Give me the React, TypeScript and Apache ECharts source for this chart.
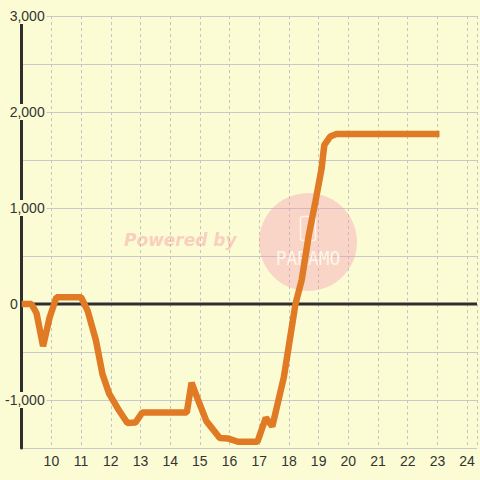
import React, { useEffect, useRef } from "react";
import * as echarts from "echarts";

const hours = [
  9.0, 9.33, 9.5, 9.72, 9.94, 10.17, 11.0, 11.22, 11.5, 11.72, 11.94, 12.28, 12.56, 12.83, 13.06,
  14.56, 14.72, 14.94, 15.22, 15.67, 15.94, 16.28, 16.94, 17.22, 17.44, 17.83, 18.22, 18.43,
  18.67, 18.89, 19.1, 19.19, 19.39, 19.6, 23.07,
];
const values = [
  0, 0, -97, -440, -140, 70, 70, -70, -380, -730, -930, -1110, -1240, -1235, -1130,
  -1130, -820, -1000, -1220, -1395, -1400, -1435, -1435, -1185, -1275, -760, 0, 250,
  720, 1065, 1410, 1655, 1745, 1770, 1770,
];
const yTicks = { min: -1500, max: 3000, step: 500 };
const xTicks = { min: 9, max: 24 + 1 / 3, step: 1 };
const baselineValue = 0;

const BG = "#fcfcd4";
const LABEL_FONT = "'Liberation Sans', Arial, sans-serif";

export default function App() {
  const ref = useRef<HTMLDivElement>(null);
  useEffect(() => {
    if (!ref.current) return;
    const chart = echarts.init(ref.current, null, { renderer: "svg" });
    const data = hours.map((h, i) => [h, values[i]]);
    const baseline = [
      [xTicks.min, baselineValue],
      [xTicks.max, baselineValue],
    ];
    chart.setOption({
      animation: false,
      backgroundColor: BG,
      grid: { left: 20, right: 0, top: 16, bottom: 32 },
      xAxis: {
        type: "value",
        min: xTicks.min,
        max: xTicks.max,
        interval: xTicks.step,
        position: "bottom",
        axisLine: { show: false, onZero: false },
        axisTick: { show: false },
        axisLabel: {
          fontSize: 14,
          color: "#333",
          fontFamily: LABEL_FONT,
          margin: 6,
          formatter: (v: number) =>
            Number.isInteger(v) && v !== xTicks.min ? String(v) : "",
        },
        splitLine: {
          show: true,
          lineStyle: { color: "#c4c4c4", type: [3, 3], width: 1 },
        },
      },
      yAxis: {
        type: "value",
        min: yTicks.min,
        max: yTicks.max,
        interval: yTicks.step,
        axisLine: { show: true, onZero: false, lineStyle: { color: "#2e2e2e", width: 3 } },
        axisTick: { show: false },
        splitLine: { show: true, lineStyle: { color: "#c8c8c8", width: 1 } },
        axisLabel: {
          align: "right",
          margin: -25,
          formatter: (v: number) => {
            if (v % 1000 !== 0) return "";
            if (v === 0) return "{z|0}";
            return "{a|" + v.toLocaleString("en-US") + "}";
          },
          rich: {
            a: {
              fontSize: 14,
              color: "#333",
              fontFamily: LABEL_FONT,
              backgroundColor: BG,
              padding: [1, 2, 1, 2],
            },
            z: {
              fontSize: 14,
              color: "#333",
              fontFamily: LABEL_FONT,
              padding: [1, 29, 1, 0],
            },
          },
        },
      },
      graphic: [
        {
          type: "text",
          left: 124,
          top: 231,
          z: 1,
          style: {
            text: "Powered by",
            font: "italic bold 17px 'DejaVu Sans'",
            fill: "rgba(246,150,160,0.45)",
          },
        },
        {
          type: "circle",
          shape: { cx: 308, cy: 242, r: 49 },
          z: 1,
          style: { fill: "rgba(245,150,180,0.38)" },
        },
        {
          type: "rect",
          shape: { x: 300.5, y: 216.5, width: 15, height: 24, r: 2 },
          z: 1,
          style: { fill: "none", stroke: "rgba(255,250,235,0.85)", lineWidth: 1.5 },
        },
        {
          type: "text",
          x: 308,
          y: 258,
          scaleX: 0.94,
          z: 1,
          style: {
            text: "PARAMO",
            font: "19px 'DejaVu Sans Mono', monospace",
            fill: "rgba(255,250,235,0.9)",
            align: "center",
            verticalAlign: "middle",
          },
        },
      ],
      series: [
        {
          type: "line",
          data: baseline,
          symbol: "none",
          showSymbol: false,
          silent: true,
          z: 2,
          lineStyle: { color: "#2e2e2e", width: 3 },
        },
        {
          type: "line",
          data,
          symbol: "none",
          showSymbol: false,
          z: 5,
          lineStyle: { color: "#e07a24", width: 6.5 },
        },
      ],
    });
    return () => chart.dispose();
  }, []);
  return (
    <div
      ref={ref}
      style={{ position: "fixed", left: 0, top: 0, width: 480, height: 480 }}
    />
  );
}
